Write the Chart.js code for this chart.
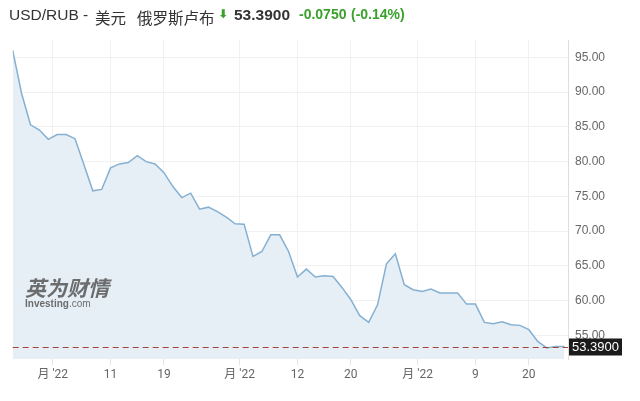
<!DOCTYPE html>
<html>
<head>
<meta charset="utf-8">
<script src="https://cdn.jsdelivr.net/npm/chart.js@4.4.1/dist/chart.umd.min.js"></script>
<style>
  html,body{margin:0;padding:0;background:#fff;}
  #wrap{position:relative;width:640px;height:401px;overflow:hidden;}
  canvas{position:absolute;left:0;top:0;}
  .h{position:absolute;top:6px;line-height:20px;white-space:nowrap;}
  .t{font:15.5px "Liberation Sans",Arial,sans-serif;color:#333;}
  .c{font:15.5px "Noto Sans CJK SC",sans-serif;color:#333;}
  .g{font:bold 14px "Liberation Sans",Arial,sans-serif;color:#39a12c;}
  #wm{position:absolute;left:25px;top:276px;color:rgba(85,85,85,0.85);pointer-events:none;}
  #wm1{font:bold 21px "Noto Sans CJK SC",sans-serif;line-height:22px;font-style:italic;}
  #wm2{font:bold 10px "Liberation Sans",Arial,sans-serif;line-height:11px;}
  #wm2 span{font-weight:normal;}
</style>
</head>
<body>
<div id="wrap">
  <canvas id="c" width="640" height="401"></canvas>
  <span class="h t" style="left:9px">USD/RUB -</span>
  <span class="h c" style="left:95px">美元</span>
  <span class="h c" style="left:137px">俄罗斯卢布</span>
  <span class="h" style="left:218px;font:bold 12px 'DejaVu Sans';color:#39a12c;top:7px">⬇</span>
  <span class="h t" style="left:234px;font-weight:bold;font-size:15.5px">53.3900</span>
  <span class="h g" style="left:299px">-0.0750</span>
  <span class="h g" style="left:351px">(-0.14%)</span>
  <div id="wm"><div id="wm1">英为财情</div><div id="wm2">Investing<span>.com</span></div></div>
</div>
<script>
// ---- data ----
const values = [
  96.0, 89.8, 85.3, 84.55, 83.2, 83.9, 83.9, 83.3, 79.6, 75.8,
  76.0, 79.1, 79.67, 79.86, 80.86, 80.0, 79.67, 78.42, 76.41, 74.83,
  75.46, 73.16, 73.45, 72.8, 72.0, 71.05, 71.0, 66.35, 67.07, 69.47,
  69.47, 67.07, 63.39, 64.54, 63.39, 63.58, 63.48, 61.9, 60.13, 57.83,
  56.87, 59.4, 65.3, 66.74, 62.3, 61.57, 61.33, 61.67, 61.1, 61.1,
  61.1, 59.5, 59.5, 56.87, 56.68, 56.97, 56.54, 56.44, 55.82, 54.14,
  53.2, 53.39, 53.39
];
const lastValue = 53.39;
const lastLabel = "53.3900";
const xTickAt = [4.5, 11, 17, 25.5, 32, 38, 45.5, 52, 58];
const xTickText = ["月 '22", "11", "19", "月 '22", "12", "20", "月 '22", "9", "20"];
const yTicks = [55, 60, 65, 70, 75, 80, 85, 90, 95];
const yMin = 51.6, yMax = 97.5, xMax = 62.4;

const points = values.map((v, i) => ({x: i, y: v}));

const lastLine = {
  id: 'lastLine',
  afterDatasetsDraw(chart) {
    const {ctx, chartArea} = chart;
    const y = Math.round(chart.scales.y.getPixelForValue(lastValue)) + 0.5;
    ctx.save();
    ctx.strokeStyle = '#a5403b';
    ctx.lineWidth = 1;
    ctx.setLineDash([6, 4]);
    ctx.beginPath();
    ctx.moveTo(chartArea.left, y);
    ctx.lineTo(chartArea.right, y);
    ctx.stroke();
    ctx.restore();
  },
  afterDraw(chart) {
    const {ctx, chartArea} = chart;
    const y = chart.scales.y.getPixelForValue(lastValue);
    ctx.save();
    ctx.fillStyle = '#1b1b1b';
    ctx.fillRect(chartArea.right + 1, Math.round(y) - 8.5, 53, 17);
    ctx.fillStyle = '#fff';
    ctx.font = '13px "Liberation Sans", Arial, sans-serif';
    ctx.textBaseline = 'middle';
    ctx.textAlign = 'left';
    ctx.fillText(lastLabel, chartArea.right + 4, Math.round(y) + 0.5);
    ctx.restore();
  }
};

new Chart(document.getElementById('c'), {
  type: 'line',
  data: {
    datasets: [{
      data: points,
      borderColor: '#86b0d1',
      borderWidth: 1.5,
      backgroundColor: '#e7eff6',
      fill: 'start',
      pointRadius: 0,
      tension: 0
    }]
  },
  options: {
    responsive: false,
    animation: false,
    events: [],
    layout: {padding: {left: 12.7, top: 40, right: 0, bottom: 0}},
    plugins: {legend: {display: false}, tooltip: {enabled: false}},
    scales: {
      x: {
        type: 'linear',
        min: 0,
        max: xMax,
        afterBuildTicks(s) { s.ticks = xTickAt.map(v => ({value: v})); },
        afterFit(s) { s.height = 42; },
        grid: {color: '#f1f1f1', tickLength: 6, tickColor: '#e4e4e4'},
        border: {display: false},
        ticks: {
          autoSkip: false,
          maxRotation: 0,
          padding: 3,
          color: '#666',
          font: {size: 12, family: 'Roboto, "Noto Sans CJK SC", sans-serif'},
          callback: (v, i) => xTickText[i]
        }
      },
      y: {
        position: 'right',
        min: yMin,
        max: yMax,
        afterBuildTicks(s) { s.ticks = yTicks.map(v => ({value: v})); },
        afterFit(s) { s.width = 72; },
        grid: {color: '#f1f1f1', drawTicks: false},
        border: {display: true, color: '#dedede'},
        ticks: {
          padding: 7,
          color: '#666',
          font: {size: 12, family: '"Liberation Sans", Arial, sans-serif'},
          callback: v => Number(v).toFixed(2)
        }
      }
    }
  },
  plugins: [lastLine]
});
</script>
</body>
</html>
